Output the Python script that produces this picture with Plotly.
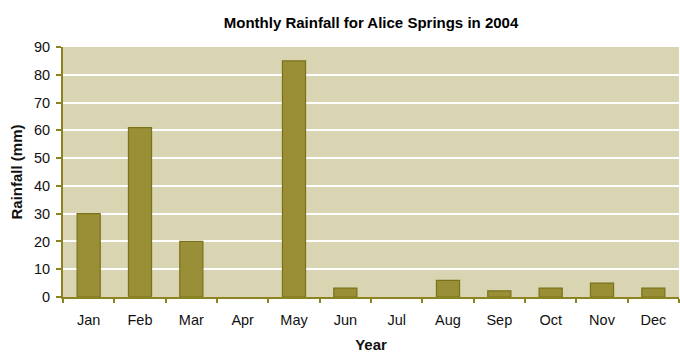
import plotly.graph_objects as go

months = ["Jan", "Feb", "Mar", "Apr", "May", "Jun", "Jul", "Aug", "Sep", "Oct", "Nov", "Dec"]
rainfall = [30, 61, 20, 0, 85, 3.2, 0, 6, 2.2, 3.2, 5, 3.2]

olive = "#8c8420"

# no outline on empty months so they stay invisible
outline_widths = [0 if v == 0 else 1.2 for v in rainfall]

fig = go.Figure(
    go.Bar(
        x=months,
        y=rainfall,
        marker=dict(color="#998f37", line=dict(color="#7a7118", width=outline_widths)),
    )
)

fig.update_layout(
    width=680,
    height=354,
    margin=dict(l=63, r=1, t=47, b=57),
    paper_bgcolor="white",
    plot_bgcolor="#d9d4b2",
    bargap=0.55,
    showlegend=False,
    font=dict(family="Arial, Liberation Sans, sans-serif", size=14.5, color="#111111"),
    title=dict(
        text="<b>Monthly Rainfall for Alice Springs in 2004</b>",
        x=(63 + 679) / 2 / 680,
        xanchor="center",
        y=1 - 23 / 354,
        yanchor="middle",
        font=dict(size=15, color="#000000"),
    ),
)

fig.update_xaxes(
    type="category",
    tickson="boundaries",
    ticks="outside",
    ticklen=4,
    tickcolor=olive,
    tickwidth=1.5,
    ticklabelstandoff=9,
    showline=True,
    linecolor=olive,
    linewidth=1.5,
    showgrid=False,
    title=dict(text="<b>Year</b>", font=dict(size=15), standoff=12),
)

fig.update_yaxes(
    range=[0, 90],
    dtick=10,
    ticks="outside",
    ticklen=5,
    tickcolor=olive,
    tickwidth=1.5,
    ticklabelstandoff=3,
    showline=True,
    linecolor=olive,
    linewidth=2,
    gridcolor="white",
    gridwidth=1.5,
    zeroline=False,
    title=dict(text="<b>Rainfall (mm)</b>", font=dict(size=15), standoff=8),
)

fig.write_html("out.html")
